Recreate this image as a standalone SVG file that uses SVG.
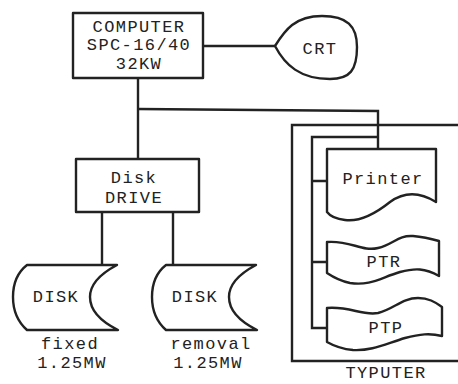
<svg xmlns="http://www.w3.org/2000/svg" width="458" height="384" viewBox="0 0 458 384">
<style>
.s{fill:#fff;stroke:#222;stroke-width:2.4;stroke-linejoin:round}
.l{fill:none;stroke:#222;stroke-width:2.4}
text{font-family:"Liberation Mono","DejaVu Sans Mono",monospace;font-size:17px;letter-spacing:1.4px;fill:#222;text-anchor:middle}
</style>
<rect width="458" height="384" fill="#fff"/>
<g id="connectors">
<path class="l" d="M203,46 H275"/>
<path class="l" d="M138,78 V159"/>
<path class="l" d="M138,109 L378,111 V149"/>
<path class="l" d="M378,137 H312 V328 H327 M312,181 H327 M312,262 H327"/>
<path class="l" d="M102,212 V265 M173,212 V265"/>
</g>
<g id="typuter">
<path class="l" d="M458,125 H292 V361 H458"/>
<text x="386" y="378">TYPUTER</text>
</g>
<g id="computer">
<rect class="s" x="73" y="13" width="130" height="65"/>
<text x="139" y="32">COMPUTER</text>
<text x="139" y="50">SPC-16/40</text>
<text x="139" y="69">32KW</text>
</g>
<g id="crt">
<path class="s" d="M275,46 C285,30 295,16 322,16 C347,16 357,26 357,47 C357,70 350,79 330,79 C300,79 285,65 275,46 Z"/>
<text x="320" y="54">CRT</text>
</g>
<g id="diskdrive">
<rect class="s" x="76" y="159" width="123" height="53"/>
<text x="134" y="183">Disk</text>
<text x="134" y="203">DRIVE</text>
</g>
<g id="disk1">
<path class="s" d="M27,265 H117 C100,274 90,285 90,297 C90,310 100,321 118,330 H27 C18,322 13,310 13,297 C13,284 18,272 27,265 Z"/>
<text x="56" y="302">DISK</text>
<text x="70" y="349">fixed</text>
<text x="72" y="368">1.25MW</text>
</g>
<g id="disk2">
<path class="s" d="M166,265 H256 C239,274 229,285 229,297 C229,310 239,321 257,330 H166 C157,322 152,310 152,297 C152,284 157,272 166,265 Z"/>
<text x="195" y="302">DISK</text>
<text x="211" y="349">removal</text>
<text x="208" y="368">1.25MW</text>
</g>
<g id="printer">
<path class="s" d="M327,149 H436 V202 C420,192 405,191 390,202 C375,214 360,222 345,220 C336,219 330,216 327,212 Z"/>
<text x="383" y="184">Printer</text>
</g>
<g id="ptr">
<path class="s" d="M327,242 C350,240 362,252 378,248 C394,244 398,235 413,236 C425,237 432,239 439,241 V276 C425,268 415,268 400,272 C380,278 370,286 350,283 C340,281 333,277 327,273 Z"/>
<text x="384" y="267">PTR</text>
</g>
<g id="ptp">
<path class="s" d="M327,308 C350,306 362,316 378,313 C394,309 402,298 418,298 C430,298 436,303 442,307 V336 C430,333 420,334 405,338 C385,344 372,351 353,350 C342,349 334,346 327,342 Z"/>
<text x="386" y="333">PTP</text>
</g>
</svg>
